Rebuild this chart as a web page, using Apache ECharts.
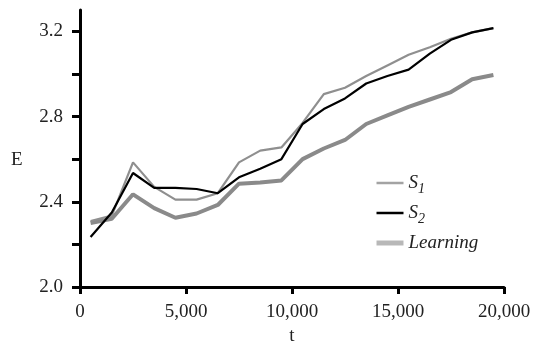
<!DOCTYPE html>
<html>
<head>
<meta charset="utf-8">
<script src="https://cdn.jsdelivr.net/npm/echarts@6/dist/echarts.min.js"></script>
<style>html,body{margin:0;padding:0;background:#fff}#c{width:539px;height:342px}</style>
</head>
<body>
<div id="c"></div>
<script>
var tValues = [500,1500,2500,3500,4500,5500,6500,7500,8500,9500,10500,11500,12500,13500,14500,15500,16500,17500,18500,19500];
var s1Values = [2.31,2.335,2.585,2.47,2.41,2.41,2.44,2.585,2.64,2.655,2.77,2.905,2.935,2.99,3.04,3.09,3.125,3.165,3.195,3.215];
var s2Values = [2.235,2.35,2.535,2.465,2.465,2.46,2.44,2.515,2.555,2.60,2.765,2.835,2.885,2.955,2.99,3.02,3.095,3.16,3.195,3.215];
var learningValues = [2.30,2.32,2.435,2.37,2.325,2.345,2.385,2.485,2.49,2.50,2.60,2.65,2.69,2.765,2.805,2.845,2.88,2.915,2.975,2.995];
var yLabelValues = [2.0,2.4,2.8,3.2];
var yTickValues = [2.0,2.2,2.4,2.6,2.8,3.0,3.2];

function pairs(vals){ return tValues.map(function(t,i){ return [t, vals[i]]; }); }
var font = '"Liberation Serif","DejaVu Serif",serif';
var chart = echarts.init(document.getElementById('c'), null, {renderer:'canvas'});
chart.setOption({
  animation: false,
  backgroundColor: '#fff',
  grid: {left: 80, right: 35, top: 10, bottom: 55, containLabel: false, outerBoundsMode: 'none'},
  graphic: [{
    type: 'text', left: 11, top: 151,
    style: {text: 'E', fontFamily: font, fontSize: 19, fill: '#222'}
  }],
  xAxis: {
    type: 'value', min: 0, max: 20000, interval: 5000,
    name: 't', nameLocation: 'middle', nameGap: 39,
    nameTextStyle: {fontFamily: font, fontSize: 19, color: '#222'},
    axisLine: {show: true, lineStyle: {color: '#000', width: 3}},
    axisTick: {show: true, length: 7, lineStyle: {color: '#000', width: 3}},
    axisLabel: {fontFamily: font, fontSize: 19, color: '#222', margin: 16,
      formatter: function(v){ return v.toLocaleString('en-US'); }},
    splitLine: {show: false}
  },
  yAxis: {
    type: 'value', min: 2.0, max: 3.3, interval: 0.1,
    axisLine: {show: true, lineStyle: {color: '#000', width: 3}},
    axisTick: {show: true, length: 8, customValues: yTickValues, lineStyle: {color: '#000', width: 3}},
    axisLabel: {fontFamily: font, fontSize: 19, color: '#222', margin: 17, customValues: yLabelValues,
      formatter: function(v){ return Number(v).toFixed(1); }},
    splitLine: {show: false}
  },
  legend: {
    orient: 'vertical', left: 369, top: 165, itemWidth: 27, itemHeight: 14, itemGap: 4,
    data: [
      {name: 'S1', lineStyle: {color: '#a3a3a3', width: 2.5}, itemStyle: {opacity: 0}},
      {name: 'S2', lineStyle: {color: '#000', width: 2.5}, itemStyle: {opacity: 0}},
      {name: 'Learning', lineStyle: {color: '#b8b8b8', width: 5}, itemStyle: {opacity: 0}}
    ],
    formatter: function(name){
      if (name === 'S1') return '{i|S}{s|1}';
      if (name === 'S2') return '{i|S}{s|2}';
      return '{i|' + name + '}';
    },
    textStyle: {
      fontFamily: font, fontSize: 19, color: '#222', lineHeight: 26,
      rich: {
        i: {fontFamily: font, fontSize: 19, fontStyle: 'italic', color: '#222', lineHeight: 26},
        s: {fontFamily: font, fontSize: 14, fontStyle: 'italic', color: '#222', lineHeight: 14, padding: [12,0,0,0]}
      }
    }
  },
  series: [
    {name: 'S1', type: 'line', data: pairs(s1Values), showSymbol: false, symbol: 'none',
      lineStyle: {color: '#8f8f8f', width: 2.2}, itemStyle: {color: '#8f8f8f'}, z: 3},
    {name: 'S2', type: 'line', data: pairs(s2Values), showSymbol: false, symbol: 'none',
      lineStyle: {color: '#000', width: 2.2}, itemStyle: {color: '#000'}, z: 4},
    {name: 'Learning', type: 'line', data: pairs(learningValues), showSymbol: false, symbol: 'none',
      lineStyle: {color: '#8a8a8a', width: 4}, itemStyle: {color: '#8a8a8a'}, z: 2}
  ]
});
</script>
</body>
</html>
